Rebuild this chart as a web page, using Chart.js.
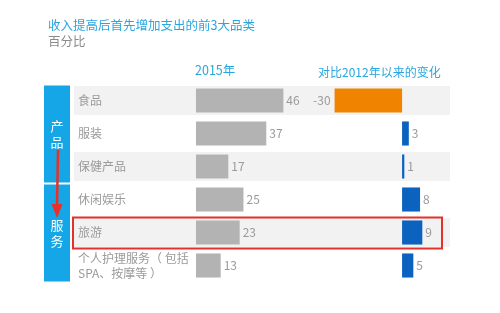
<!DOCTYPE html>
<html>
<head>
<meta charset="utf-8">
<script src="https://cdn.jsdelivr.net/npm/chart.js@4.4.0/dist/chart.umd.min.js"></script>
<style>
	html, body { margin: 0; padding: 0; background: #fff; }
	#wrap { position: relative; width: 500px; height: 313px; font-family: "Noto Sans CJK SC", "Noto Sans", sans-serif; }
	canvas { position: absolute; left: 0; top: 0; }
	.txt { position: absolute; white-space: nowrap; line-height: 1; }
</style>
</head>
<body>
<div id="wrap">
	<canvas id="chart-bars" width="500" height="313"></canvas>
	<div class="txt" style="left:48px;top:19px;font-size:12.5px;color:#2aa6df;">收入提高后首先增加支出的前3大品类</div>
	<div class="txt" style="left:48px;top:35px;font-size:12.5px;color:#8a8a8a;">百分比</div>
	<div class="txt" style="left:195px;top:64px;font-size:12.5px;color:#2aa6df;">2015年</div>
	<div class="txt" style="left:318px;top:66px;font-size:12px;color:#2aa6df;">对比2012年以来的变化</div>
</div>
<script>
const CATEGORIES = ["食品", "服装", "保健产品", "休闲娱乐", "旅游", ["个人护理服务（ 包括", "SPA、按摩等 ）"]];
const SHARE_2015 = [46, 37, 17, 25, 23, 13];
const CHANGE_SINCE_2012 = [-30, 3, 1, 8, 9, 5];
const GROUPS = [
	{ name: "产品", from: 0, to: 2 },
	{ name: "服务", from: 3, to: 5 },
];
const HIGHLIGHT = 4;

const GRAY = "#b3b3b3";
const BLUE = "#0b63bf";
const ORANGE = "#f08300";
const SKY = "#14a6e6";
const RED = "#e8302a";
const LABEL = "#9a9a9a";
const FONT = '"Noto Sans CJK SC", "Noto Sans", sans-serif';

// alternating row bands behind everything
const bands = {
	id: "bands",
	beforeDraw(chart) {
		const { ctx, chartArea, scales } = chart;
		ctx.save();
		ctx.fillStyle = "#f2f2f2";
		CATEGORIES.forEach((c, i) => {
			if (i % 2) return;
			const y = scales.y.getPixelForValue(i);
			ctx.fillRect(chartArea.left, y - 14.5, chartArea.right - chartArea.left, 29);
		});
		ctx.restore();
	},
};

// numbers next to the bar ends
const valueLabels = {
	id: "valueLabels",
	afterDatasetsDraw(chart) {
		const { ctx } = chart;
		ctx.save();
		ctx.font = `12px ${FONT}`;
		ctx.fillStyle = LABEL;
		ctx.textBaseline = "middle";
		chart.data.datasets.forEach((ds, di) => {
			chart.getDatasetMeta(di).data.forEach((bar, i) => {
				const v = ds.data[i];
				if (v < 0) {
					ctx.textAlign = "right";
					ctx.fillText(v, Math.min(bar.x, bar.base) - 4, bar.y);
				} else {
					ctx.textAlign = "left";
					ctx.fillText(v, Math.max(bar.x, bar.base) + 3, bar.y);
				}
			});
		});
		ctx.restore();
	},
};

// group blocks, arrow, highlight frame
const decorations = {
	id: "decorations",
	afterDraw(chart) {
		const { ctx, scales } = chart;
		const y = scales.y;
		ctx.save();
		GROUPS.forEach((g) => {
			const top = y.getPixelForValue(g.from) - 15;
			const bottom = y.getPixelForValue(g.to) + 16;
			ctx.fillStyle = SKY;
			ctx.fillRect(44, top, 26, bottom - top);
			ctx.fillStyle = "#fff";
			ctx.font = `13px ${FONT}`;
			ctx.textAlign = "center";
			ctx.textBaseline = "middle";
			const mid = (top + bottom) / 2;
			ctx.fillText(g.name[0], 57, mid - 8);
			ctx.fillText(g.name[1], 57, mid + 8);
		});

		// arrow from products down to services
		ctx.strokeStyle = RED;
		ctx.fillStyle = RED;
		ctx.lineWidth = 2.5;
		ctx.beginPath();
		ctx.moveTo(58, 150);
		ctx.lineTo(57, 206);
		ctx.stroke();
		ctx.beginPath();
		ctx.moveTo(51.5, 204);
		ctx.lineTo(62.5, 204);
		ctx.lineTo(57, 218);
		ctx.closePath();
		ctx.fill();

		// highlighted row
		const hy = y.getPixelForValue(HIGHLIGHT);
		ctx.lineWidth = 2;
		ctx.strokeRect(73, hy - 15, 369, 31);
		ctx.restore();
	},
};

const DATA = {
	labels: CATEGORIES,
	datasets: [
		{
			data: SHARE_2015,
			xAxisID: "x",
			backgroundColor: GRAY,
			grouped: false,
			categoryPercentage: 1,
			barPercentage: 0.73,
		},
		{
			data: CHANGE_SINCE_2012,
			xAxisID: "x2",
			backgroundColor: CHANGE_SINCE_2012.map((v) => (v < 0 ? ORANGE : BLUE)),
			grouped: false,
			categoryPercentage: 1,
			barPercentage: 0.73,
		},
	],
};

const CONFIG = {
	type: "bar",
	data: DATA,
	options: {
		indexAxis: "y",
		responsive: false,
		animation: false,
		layout: { padding: { left: 74, right: 50, top: 84, bottom: 31 } },
		scales: {
			// both value axes span the plot width; their ranges put each zero where the columns start
			x: { display: false, min: -64.2, max: 133.7 },
			x2: { display: false, min: -145.8, max: 21.3 },
			y: {
				grid: { display: false, drawTicks: false },
				border: { display: false },
				afterFit: (axis) => { axis.width = 0; },
				ticks: {
					mirror: true,
					padding: 4,
					color: LABEL,
					font: { family: FONT, size: 12, lineHeight: 1.25 },
				},
			},
		},
		plugins: {
			legend: { display: false },
			tooltip: { enabled: false },
		},
	},
	plugins: [bands, valueLabels, decorations],
};

new Chart(document.getElementById("chart-bars"), CONFIG);
</script>
</body>
</html>
